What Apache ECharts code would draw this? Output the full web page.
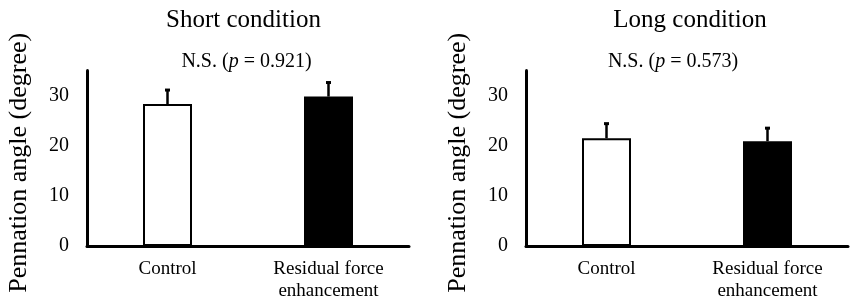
<!DOCTYPE html>
<html>
<head>
<meta charset="utf-8">
<script src="https://cdn.jsdelivr.net/npm/echarts@6/dist/echarts.min.js"></script>
<style>html,body{margin:0;padding:0;background:#fff}#c{width:851px;height:304px}</style>
</head>
<body>
<div id="c"></div>
<script>
const categories = ['Control', 'Residual force\nenhancement'];
const panelTitles = ['Short condition', 'Long condition'];
const pValues = ['0.921', '0.573'];
const shortMeans = [28.3, 29.8];
const shortSD = [2.9, 2.9];
const longMeans = [21.5, 20.9];
const longSD = [3.0, 2.7];
const yTicks = [0, 10, 20, 30];
const yAxisName = 'Pennation angle (degree)';

const FONT = '"Liberation Serif", "Times New Roman", serif';
const chart = echarts.init(document.getElementById('c'), null, {renderer: 'canvas'});

const grids = [
  {left: 87, top: 70.5, width: 322, height: 175.5},
  {left: 526, top: 70.5, width: 322, height: 175.5}
];
const means = [shortMeans, longMeans];
const sds = [shortSD, longSD];

const xAxes = grids.map((g, i) => ({
  type: 'category', gridIndex: i, data: categories,
  axisLine: {lineStyle: {color: '#000', width: 3}},
  axisTick: {show: false},
  axisLabel: {color: '#000', fontFamily: FONT, fontSize: 19, margin: 12, lineHeight: 22}
}));
const yAxes = grids.map((g, i) => ({
  type: 'value', gridIndex: i, min: 0, max: 35, interval: 10,
  name: yAxisName, nameLocation: 'middle', nameGap: 55,
  nameTextStyle: {color: '#000', fontFamily: FONT, fontSize: 26, padding: [0, 0, 0, -9]},
  axisLine: {show: true, lineStyle: {color: '#000', width: 3}},
  axisTick: {show: false},
  splitLine: {show: false},
  axisLabel: {color: '#000', fontFamily: FONT, fontSize: 20, margin: 18, showMaxLabel: false,
    formatter: v => yTicks.indexOf(v) >= 0 ? String(v) : ''}
}));

const series = [];
grids.forEach((g, i) => {
  series.push({
    type: 'bar', xAxisIndex: i, yAxisIndex: i, barWidth: 49,
    data: means[i].map((v, k) => ({
      value: v,
      itemStyle: {color: k === 0 ? '#fff' : '#000', borderColor: '#000', borderWidth: 2}
    })),
    silent: true, animation: false
  });
  series.push({
    type: 'custom', xAxisIndex: i, yAxisIndex: i,
    data: means[i].map((v, k) => [k, v, v + sds[i][k]]),
    renderItem: (params, api) => {
      const p0 = api.coord([api.value(0), api.value(1)]);
      const p1 = api.coord([api.value(0), api.value(2)]);
      return {
        type: 'group',
        children: [
          {type: 'line', shape: {x1: p0[0], y1: p0[1], x2: p1[0], y2: p1[1]},
           style: {stroke: '#000', lineWidth: 2.5}},
          {type: 'rect', shape: {x: p1[0] - 2.5, y: p1[1] - 1, width: 5, height: 3},
           style: {fill: '#000'}}
        ]
      };
    },
    z: 5, silent: true, animation: false
  });
});

const titleCenters = [243.5, 690];
const nsCenters = [246.5, 673];
const graphic = [];
panelTitles.forEach((t, i) => {
  graphic.push({
    type: 'text', x: titleCenters[i], y: 20,
    style: {text: t, fontFamily: FONT, fontSize: 25, fill: '#000', align: 'center', verticalAlign: 'middle'}
  });
});
pValues.forEach((p, i) => {
  graphic.push({
    type: 'text', x: nsCenters[i], y: 62,
    style: {
      text: '{n|N.S. (}{i|p}{n| = ' + p + ')}',
      align: 'center', verticalAlign: 'middle',
      rich: {
        n: {fontFamily: FONT, fontSize: 20, fill: '#000'},
        i: {fontFamily: FONT, fontSize: 20, fontStyle: 'italic', fill: '#000'}
      }
    }
  });
});

chart.setOption({
  animation: false,
  backgroundColor: '#fff',
  grid: grids,
  xAxis: xAxes,
  yAxis: yAxes,
  series: series,
  graphic: graphic
});
</script>
</body>
</html>
